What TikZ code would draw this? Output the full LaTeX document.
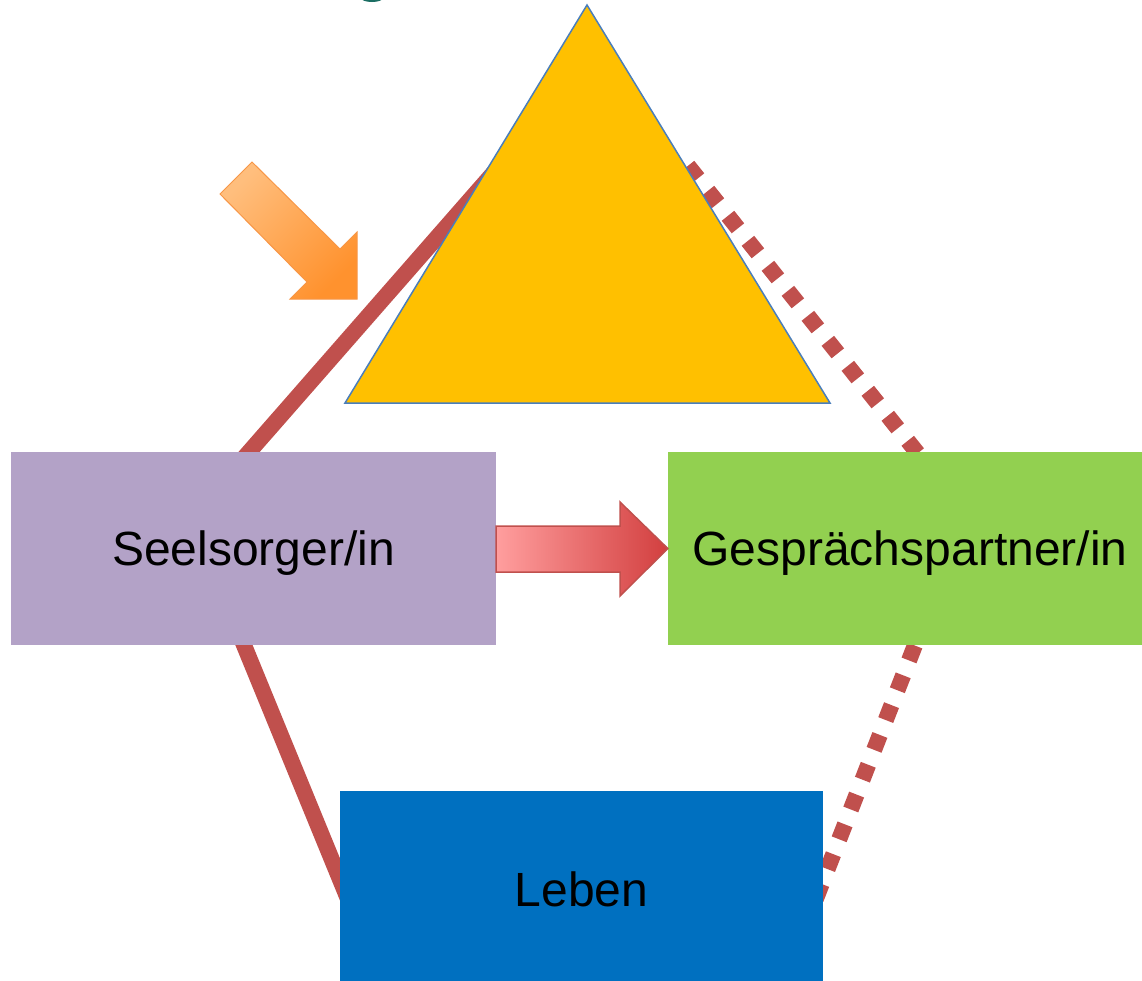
\documentclass[tikz,border=0pt]{standalone}
\usepackage{fontspec}
\setmainfont{Liberation Sans}
\definecolor{lavender}{HTML}{B3A2C7}
\definecolor{gruen}{HTML}{92D050}
\definecolor{blau}{HTML}{0070C0}
\definecolor{gold}{HTML}{FFC000}
\definecolor{triblue}{HTML}{4A7EBB}
\definecolor{linkred}{HTML}{C0504D}
\definecolor{tealc}{HTML}{1B6E63}
\definecolor{orL}{HTML}{FFBE7D}
\definecolor{orD}{HTML}{FF922E}
\definecolor{orS}{HTML}{F79646}
\definecolor{rdL}{HTML}{FF9E9E}
\definecolor{rdD}{HTML}{D23F3F}
\begin{document}
\begin{tikzpicture}[x=1pt,y=-1pt,
  box/.style={draw=none, inner sep=0pt, font=\fontsize{48}{58}\selectfont, text=black,
    text height=34.4pt, text depth=0pt},
  link/.style={draw=linkred, line width=16pt},
  dotlink/.style={link, dash pattern=on 16pt off 16pt},
]
\clip (0,0) rectangle (1142,980);
\useasboundingbox (0,0) rectangle (1142,980);

% teal fragment at the top edge
\fill[tealc] (372,-2) ellipse (11pt and 4pt);

% connector end points
\coordinate (sl1) at (207,500);
\coordinate (sl2) at (531,130);
\coordinate (sl3) at (225.5,600);
\coordinate (sl4) at (373,960);
\coordinate (dl1) at (688.0,165.8);
\coordinate (dl2) at (955,500);
\coordinate (dl3) at (938.1,585.9);
\coordinate (dl4) at (792,960);

% connectors
\draw[link] (sl1) -- (sl2);
\draw[link] (sl3) -- (sl4);
\draw[dotlink] (dl1) -- (dl2);
\draw[dotlink] (dl3) -- (dl4);

% triangle
\coordinate (apex) at (587,5);
\coordinate (bl) at (345,403);
\coordinate (br) at (830,403);
\path[fill=gold, draw=triblue, line width=1.5pt, line join=miter] (apex) -- (bl) -- (br) -- cycle;

% boxes
\node[box, fill=lavender, minimum width=485pt, minimum height=193pt] (seel) at (253.5,548.5) {Seelsorger/in};
\node[box, fill=gruen, minimum width=484pt, minimum height=193pt] (gesp) at (910,548.5) {Gesprächspartner/in};
\node[box, fill=blau, minimum width=483pt, minimum height=196pt] (leben) at (581.5,889) {Leben};

% orange arrow
\path[draw=orS, line width=1pt, top color=orL, bottom color=orD, shading angle=45]
  (220,194) -- (252,162) -- (340,249) -- (357,232) -- (357,299) -- (290,299) -- (307,282) -- cycle;

% red arrow
\path[draw=linkred, line width=1.5pt, left color=rdL, right color=rdD]
  (seel.east |- 0,526) -- (620,526) -- (620,502) -- (gesp.west) -- (620,596) -- (620,572) -- (seel.east |- 0,572) -- cycle;
\end{tikzpicture}
\end{document}
